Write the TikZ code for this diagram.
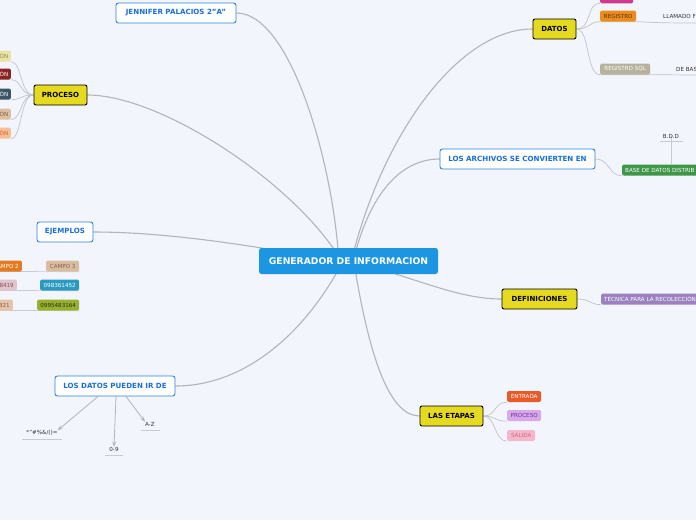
\documentclass[tikz,border=0pt]{standalone}
\usepackage{fontspec}
\setmainfont{DejaVu Sans}
\usetikzlibrary{arrows.meta}
\definecolor{bgcol}{RGB}{243,245,252}
\definecolor{linecol}{RGB}{178,180,190}
\definecolor{centcol}{RGB}{28,150,227}
\definecolor{bluecol}{RGB}{45,130,222}
\definecolor{bluetxt}{RGB}{25,110,215}
\definecolor{yelcol}{RGB}{230,218,32}
\pgfdeclarelayer{bg}
\pgfsetlayers{bg,main}
\begin{document}
\begin{tikzpicture}[x=1pt,y=-1pt, every node/.style={font=\fontsize{5.6}{6.5}\selectfont,inner sep=0pt},
  centbox/.style={fill=centcol,text=white,rounded corners=2.5pt,minimum width=179pt,minimum height=26pt,font=\fontsize{9.2}{11}\bfseries\selectfont},
  yelbox/.style={draw=black,fill=yelcol,line width=0.9pt,rounded corners=2pt,minimum height=20pt,font=\fontsize{7}{8}\bfseries\selectfont},
  bluebox/.style={draw=bluecol,fill=white,line width=0.9pt,rounded corners=2.5pt,minimum height=20pt,text=bluetxt,font=\fontsize{7.1}{8}\bfseries\selectfont},
  leaf/.style={rounded corners=1.5pt,minimum height=11pt,inner xsep=3pt},
  leaftxt/.style={text=black!80},
  link/.style={draw=linecol,line width=1.1pt},
  sublink/.style={draw=linecol!80,line width=0.7pt},
  uline/.style={draw=linecol!70,line width=0.7pt},
  arr/.style={draw=linecol,line width=0.8pt,-{Stealth[length=5pt,width=4pt]}}]
\useasboundingbox (0,0) rectangle (696,520);
\begin{pgfonlayer}{bg}
\fill[bgcol] (0,0) rectangle (696,520);
\end{pgfonlayer}
% main topics
\node[centbox] (gen) at (348.5,261) {GENERADOR DE INFORMACION};
\node[bluebox,minimum width=120pt] (jen) at (176,13) {JENNIFER PALACIOS 2"A"};
\node[yelbox,minimum width=53pt] (proc) at (60.5,95) {PROCESO};
\node[yelbox,minimum width=43pt] (datos) at (554.5,29) {DATOS};
\node[bluebox,minimum width=155pt] (arch) at (517.5,159) {LOS ARCHIVOS SE CONVIERTEN EN};
\node[bluebox,minimum width=56pt] (ejem) at (65,232) {EJEMPLOS};
\node[yelbox,minimum width=75pt] (defin) at (539.5,299) {DEFINICIONES};
\node[bluebox,minimum width=120pt] (ldat) at (115,386) {LOS DATOS PUEDEN IR DE};
\node[yelbox,minimum width=63pt] (etap) at (451.5,416) {LAS ETAPAS};
% proceso children
\node[leaf,inner xsep=2.5pt,fill={rgb,255:red,232;green,228;blue,168},text={rgb,255:red,150;green,140;blue,60},anchor=east] (p1) at (11,56) {ÓN};
\node[leaf,inner xsep=2.5pt,fill={rgb,255:red,140;green,35;blue,35},text=white,anchor=east] (p2) at (11,74) {ÓN};
\node[leaf,inner xsep=2.5pt,fill={rgb,255:red,60;green,85;blue,102},text=white,anchor=east] (p3) at (11,94) {ÓN};
\node[leaf,inner xsep=2.5pt,fill={rgb,255:red,222;green,190;blue,160},text={rgb,255:red,130;green,95;blue,65},anchor=east] (p4) at (11,114) {ÓN};
\node[leaf,inner xsep=2.5pt,fill={rgb,255:red,246;green,192;blue,150},text={rgb,255:red,220;green,90;blue,40},anchor=east] (p5) at (11,133) {ÓN};
% datos children
\node[leaf,fill={rgb,255:red,208;green,58;blue,140},minimum width=33pt,anchor=south west] (dpink) at (600,3.5) {};
\node[leaf,fill={rgb,255:red,236;green,140;blue,30},text={rgb,255:red,90;green,50;blue,10},minimum width=36pt,anchor=west] (reg) at (600,16) {REGISTRO};
\node[leaftxt,anchor=west] (llam) at (663,16) {LLAMADO F};
\node[leaf,fill={rgb,255:red,182;green,178;blue,156},text=white,minimum width=50pt,anchor=west] (rsql) at (600,69) {REGISTRO SQL};
\node[leaftxt,anchor=west] (debas) at (676,69) {DE BAS};
% archivos children
\node[leaf,fill={rgb,255:red,62;green,150;blue,72},text=white,anchor=west] (bdd) at (622,170) {BASE DE DATOS DISTRIB};
\node[leaftxt] (bddt) at (671,136) {B.D.D};
% definiciones child
\node[leaf,fill={rgb,255:red,156;green,128;blue,192},text=white,minimum width=96pt,anchor=west,align=left] (tec) at (601,299) {TÉCNICA PARA LA RECOLECCIÓN};
% ejemplos table
\node[leaf,fill={rgb,255:red,228;green,122;blue,32},text=white,anchor=east] (c2) at (22,266) {CAMPO 2};
\node[leaf,fill={rgb,255:red,218;green,188;blue,162},text={rgb,255:red,130;green,100;blue,80},minimum width=33pt,anchor=west] (c3) at (46,266) {CAMPO 3};
\node[leaf,fill={rgb,255:red,226;green,196;blue,204},text={rgb,255:red,140;green,80;blue,100},anchor=east] (n1) at (17,285) {8419};
\node[leaf,fill={rgb,255:red,42;green,154;blue,192},text=white,minimum width=39pt,anchor=west] (n2) at (40,285) {098361452};
\node[leaf,fill={rgb,255:red,228;green,196;blue,170},text={rgb,255:red,140;green,95;blue,60},anchor=east] (n3) at (13,305) {321};
\node[leaf,fill={rgb,255:red,152;green,176;blue,48},text={rgb,255:red,45;green,50;blue,10},minimum width=42pt,anchor=west] (n4) at (37,305) {0995483164};
% datos pueden ir de
\node[leaftxt] (sim) at (42,433) {*"\#\%\&/()=};
\node[leaftxt] (num) at (114,449) {0-9};
\node[leaftxt] (let) at (150,424) {A-Z};
% etapas children
\node[leaf,fill={rgb,255:red,232;green,90;blue,40},text=white,minimum width=34pt,anchor=west] (ent) at (507,396.5) {ENTRADA};
\node[leaf,fill={rgb,255:red,216;green,168;blue,232},text={rgb,255:red,112;green,48;blue,160},minimum width=34pt,anchor=west] (epro) at (507,415.5) {PROCESO};
\node[leaf,fill={rgb,255:red,244;green,184;blue,204},text={rgb,255:red,224;green,96;blue,128},minimum width=28pt,anchor=west] (sal) at (507,435.5) {SALIDA};
\begin{pgfonlayer}{bg}
% main links
\draw[link] (gen.center) ++(-10,-5) .. controls (332,160) and (290,13) .. (jen.east);
\draw[link] (gen.center) ++(-10,-5) .. controls (290,180) and (160,95) .. (proc.east);
\draw[link] (gen.center) ++(4,-5) .. controls (385,130) and (460,29) .. (datos.west);
\draw[link] (gen.center) ++(6,-5) .. controls (370,195) and (400,159) .. (arch.west);
\draw[link] (gen.center) ++(-40,-5) .. controls (220,240) and (150,232) .. (ejem.east);
\draw[link] (gen.center) ++(20,5) .. controls (420,280) and (460,299) .. (defin.west);
\draw[link] (gen.center) ++(-8,5) .. controls (300,340) and (240,386) .. (ldat.east);
\draw[link] (gen.center) ++(6,5) .. controls (370,360) and (390,416) .. (etap.west);
% proceso links
\foreach \c in {p1,p2,p3,p4,p5}
  \draw[sublink] (proc.west) .. controls (20,95) and (22,0|-\c.south) .. (\c.south east);
% datos links
\draw[sublink] (datos.east) .. controls (592,29) and (586,3) .. (dpink.south west);
\draw[sublink] (datos.east) .. controls (590,29) and (588,22) .. (reg.south west) -- (reg.south east) .. controls (650,22) and (650,23) .. (696,23);
\draw[sublink] (datos.east) .. controls (590,29) and (586,75) .. (rsql.south west) -- (rsql.south east) -- (696,75);
% archivos links
\draw[sublink] (arch.east) .. controls (610,159) and (608,175.5) .. (bdd.south west);
\draw[uline] (660,141) -- (683,141);
\draw[uline] (bddt.south) ++(0,-2.5) -- (bdd.north -| bddt.south);
% definiciones link
\draw[sublink] (defin.east) .. controls (590,299) and (590,304.5) .. (tec.south west);
% ejemplos rows
\draw[uline] (0,271.5) -- (c3.south east);
\draw[uline] (0,290.5) -- (n2.south east);
\draw[uline] (0,310.5) -- (n4.south east);
% datos pueden ir de
\draw[arr] (ldat.south) ++(-17,0) -- (sim.north east);
\draw[arr] (ldat.south) ++(1,0) -- (num.north);
\draw[arr] (ldat.south) ++(11,0) -- (let.north west);
\draw[uline] (22,439) -- (62,439);
\draw[uline] (105,455) -- (123,455);
\draw[uline] (141,430) -- (160,430);
% etapas links
\foreach \c in {ent,epro,sal}
  \draw[sublink] (etap.east) .. controls (496,416) and (494,0|-\c.south) .. (\c.south west);
\end{pgfonlayer}
\end{tikzpicture}
\end{document}
